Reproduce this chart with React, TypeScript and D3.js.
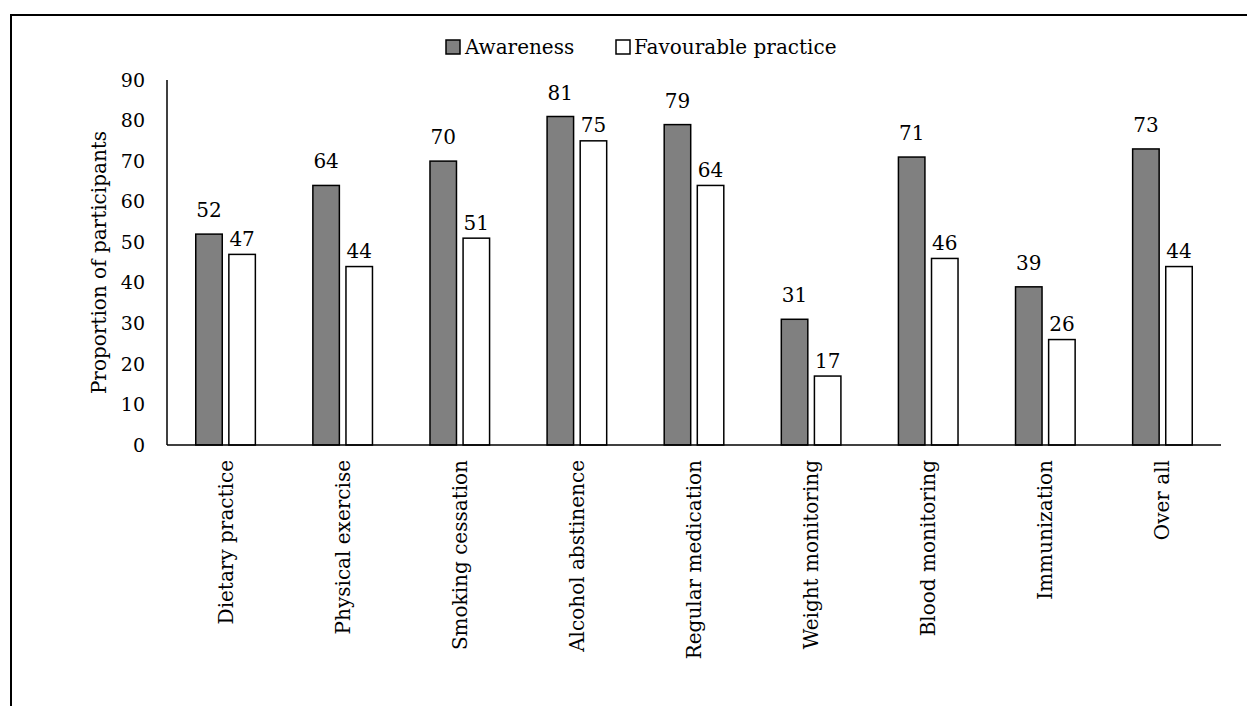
import * as d3 from "d3";
import React from "react";

const categories = [
  "Dietary practice",
  "Physical exercise",
  "Smoking cessation",
  "Alcohol abstinence",
  "Regular medication",
  "Weight monitoring",
  "Blood monitoring",
  "Immunization",
  "Over all",
];
const awareness = [52, 64, 70, 81, 79, 31, 71, 39, 73];
const favourable = [47, 44, 51, 75, 64, 17, 46, 26, 44];
const yTicks = [0, 10, 20, 30, 40, 50, 60, 70, 80, 90];

const font = "'DejaVu Serif', serif";
const fs = 20;

const App = () => {
  const left = 167;
  const right = 1221;
  const top = 80;
  const bottom = 445;

  const x = d3.scaleBand<string>().domain(categories).range([left, right]);
  const y = d3.scaleLinear().domain([0, 90]).range([bottom, top]);

  const barW = 26.5;
  const gap = 6.6;

  // Excel places the labels of the two series at slightly different heights
  const series = [
    { name: "Awareness", values: awareness, fill: "#808080", offset: -gap / 2 - barW, lift: 17 },
    { name: "Favourable practice", values: favourable, fill: "#ffffff", offset: gap / 2, lift: 8.5 },
  ];

  return (
    <svg
      width={1247}
      height={706}
      style={{ position: "absolute", left: 0, top: 0, background: "#fff" }}
    >
      <rect x={11} y={15} width={1260} height={720} fill="#fff" stroke="#000" strokeWidth={2} />

      {/* legend */}
      <g fontFamily={font} fontSize={fs}>
        <rect x={446} y={40} width={14} height={14} fill="#808080" stroke="#000" strokeWidth={1.5} />
        <text x={465} y={54}>Awareness</text>
        <rect x={616} y={40} width={14} height={14} fill="#fff" stroke="#000" strokeWidth={1.5} />
        <text x={634} y={54}>Favourable practice</text>
      </g>

      {/* y tick labels */}
      <g fontFamily={font} fontSize={19} textAnchor="end">
        {yTicks.map((t) => (
          <text key={t} x={145} y={y(t) + 6.7}>
            {t}
          </text>
        ))}
      </g>
      <text
        transform={`translate(106, ${(top + bottom) / 2}) rotate(-90)`}
        textAnchor="middle"
        fontFamily={font}
        fontSize={fs}
      >
        Proportion of participants
      </text>

      {/* bars */}
      {series.map((s) => (
        <g key={s.name}>
          {categories.map((c, i) => {
            const cx = (x(c) as number) + x.bandwidth() / 2;
            const bx = cx + s.offset;
            return (
              <g key={c}>
                <rect
                  x={bx}
                  y={y(s.values[i])}
                  width={barW}
                  height={y(0) - y(s.values[i])}
                  fill={s.fill}
                  stroke="#000"
                  strokeWidth={1.5}
                />
                <text
                  x={bx + barW / 2}
                  y={y(s.values[i]) - s.lift}
                  textAnchor="middle"
                  fontFamily={font}
                  fontSize={fs}
                >
                  {s.values[i]}
                </text>
              </g>
            );
          })}
        </g>
      ))}

      {/* axes */}
      <line x1={left} x2={left} y1={top} y2={bottom} stroke="#000" strokeWidth={1.5} />
      <line x1={left} x2={right} y1={bottom} y2={bottom} stroke="#000" strokeWidth={1.5} />

      {/* category labels */}
      <g fontFamily={font} fontSize={fs} textAnchor="end">
        {categories.map((c) => (
          <text
            key={c}
            transform={`translate(${(x(c) as number) + x.bandwidth() / 2 + 7}, 460) rotate(-90)`}
          >
            {c}
          </text>
        ))}
      </g>
    </svg>
  );
};

export default App;
